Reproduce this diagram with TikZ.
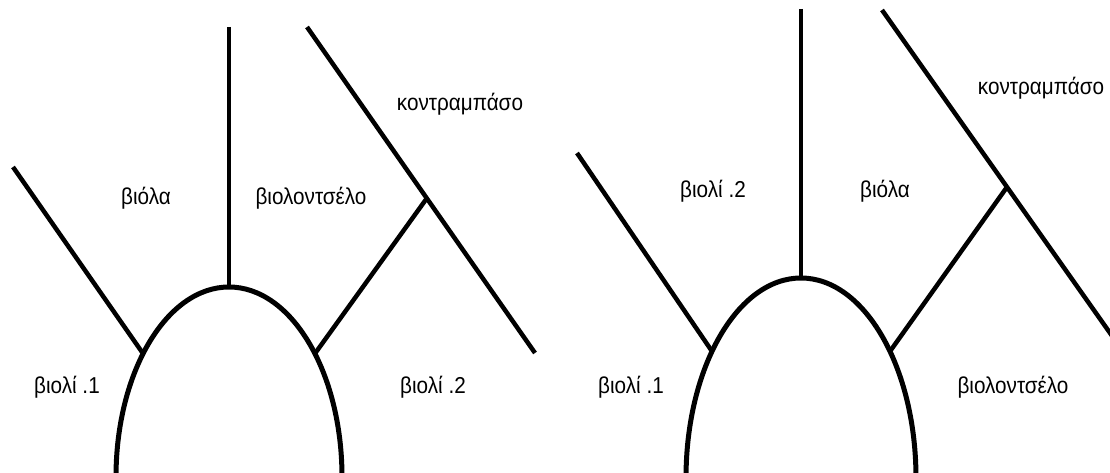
\documentclass[tikz,border=0pt]{standalone}
\usepackage{fontspec}
\setmainfont{Liberation Sans}
\newfontfamily\planfont[FakeStretch=0.9]{Liberation Sans}

\begin{document}
\begin{tikzpicture}[x=1pt, y=-1pt,
    wall/.style = {line width=4.5pt},
    stage/.style = {line width=5pt},
    every node/.style = {font=\planfont\fontsize{23}{26}\selectfont, inner sep=0pt}]
  \useasboundingbox (0,0) rectangle (1110,473);
  \clip (0,0) rectangle (1110,473);

  % left plan
  \draw[stage] (116,477) arc[start angle=180, end angle=360, x radius=113, y radius=190];
  \path (229,477) ++(220.5:113 and 190) coordinate (leftfoot1)
        (229,477) ++(319.5:113 and 190) coordinate (rightfoot1);
  \coordinate (top1) at (229,287);
  \coordinate (cross1) at (427,198);
  \draw[wall] (229,27) -- (top1);
  \draw[wall] (13,167) -- (leftfoot1);
  \draw[wall] (307,27) -- (535,353);
  \draw[wall] (rightfoot1) -- (cross1);

  \node (viola1)   at (146,198) {βιόλα};
  \node (cello1)   at (311,198) {βιολοντσέλο};
  \node (bass1)    at (460,104) {κοντραμπάσο};
  \node (violinA1) at (67,387)  {βιολί .1};
  \node (violinB1) at (433,387) {βιολί .2};

  % right plan
  \draw[stage] (686,478) arc[start angle=180, end angle=360, x radius=115, y radius=200];
  \path (801,478) ++(219.3:115 and 200) coordinate (leftfoot2)
        (801,478) ++(320.7:115 and 200) coordinate (rightfoot2);
  \coordinate (top2) at (801,278);
  \coordinate (cross2) at (1007,187);
  \draw[wall] (801,9) -- (top2);
  \draw[wall] (577,153) -- (leftfoot2);
  \draw[wall] (882,10) -- (1122,350);
  \draw[wall] (rightfoot2) -- (cross2);

  \node (violinB2) at (713,191)  {βιολί .2};
  \node (viola2)   at (885,191)  {βιόλα};
  \node (bass2)    at (1041,88)  {κοντραμπάσο};
  \node (violinA2) at (631,387)  {βιολί .1};
  \node (cello2)   at (1013,387) {βιολοντσέλο};
\end{tikzpicture}
\end{document}
